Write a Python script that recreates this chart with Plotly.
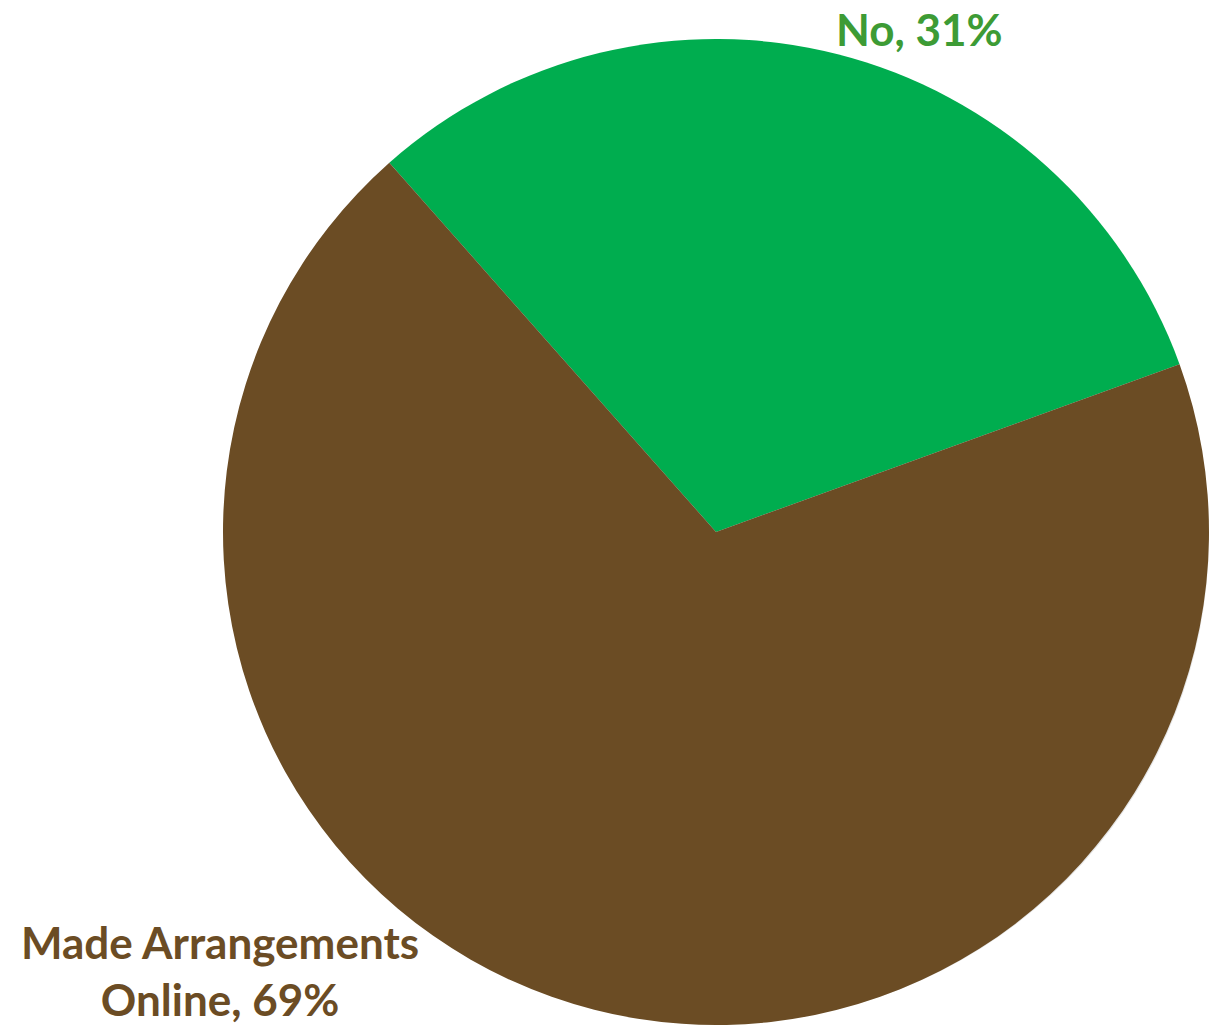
import plotly.graph_objects as go

labels = ["No", "Made Arrangements<br>Online"]
values = [31, 69]
slice_colors = ["#00AD4F", "#6B4C24"]
label_colors = ["#3D9B35", "#6B4C24"]

W, H = 1209, 1032
cx, cy, r = 716, 532, 493

def dom(cx, cy, r):
    return dict(x=[(cx - r) / W, min((cx + r) / W, 1.0)],
                y=[1 - (cy + r) / H, 1 - (cy - r) / H])

fig = go.Figure()
# soft shadow
fig.add_trace(go.Pie(
    labels=labels, values=values, sort=False, direction="clockwise",
    rotation=-41.5, textinfo="none", hoverinfo="skip", showlegend=False,
    marker=dict(colors=["rgba(0,0,0,0.10)"] * 2, line=dict(width=0)),
    domain=dom(cx + 6, cy + 4, r - 6),
))
fig.add_trace(go.Pie(
    labels=labels, values=values, sort=False, direction="clockwise",
    rotation=-41.5, textinfo="none", showlegend=False,
    marker=dict(colors=slice_colors, line=dict(width=0)),
    domain=dom(cx, cy, r),
))

ann_pos = [(919, 29), (220, 970)]
for lab, v, c, (px, py) in zip(labels, values, label_colors, ann_pos):
    fig.add_annotation(
        x=px / W, y=1 - py / H, xref="paper", yref="paper",
        text=f"<b>{lab}, {v}%</b>", showarrow=False,
        font=dict(family="Lato", size=44, color=c),
        xanchor="center", yanchor="middle", align="center",
    )

fig.update_layout(
    width=W, height=H, margin=dict(l=0, r=0, t=0, b=0),
    paper_bgcolor="white", plot_bgcolor="white",
)
fig.write_html("out.html")
